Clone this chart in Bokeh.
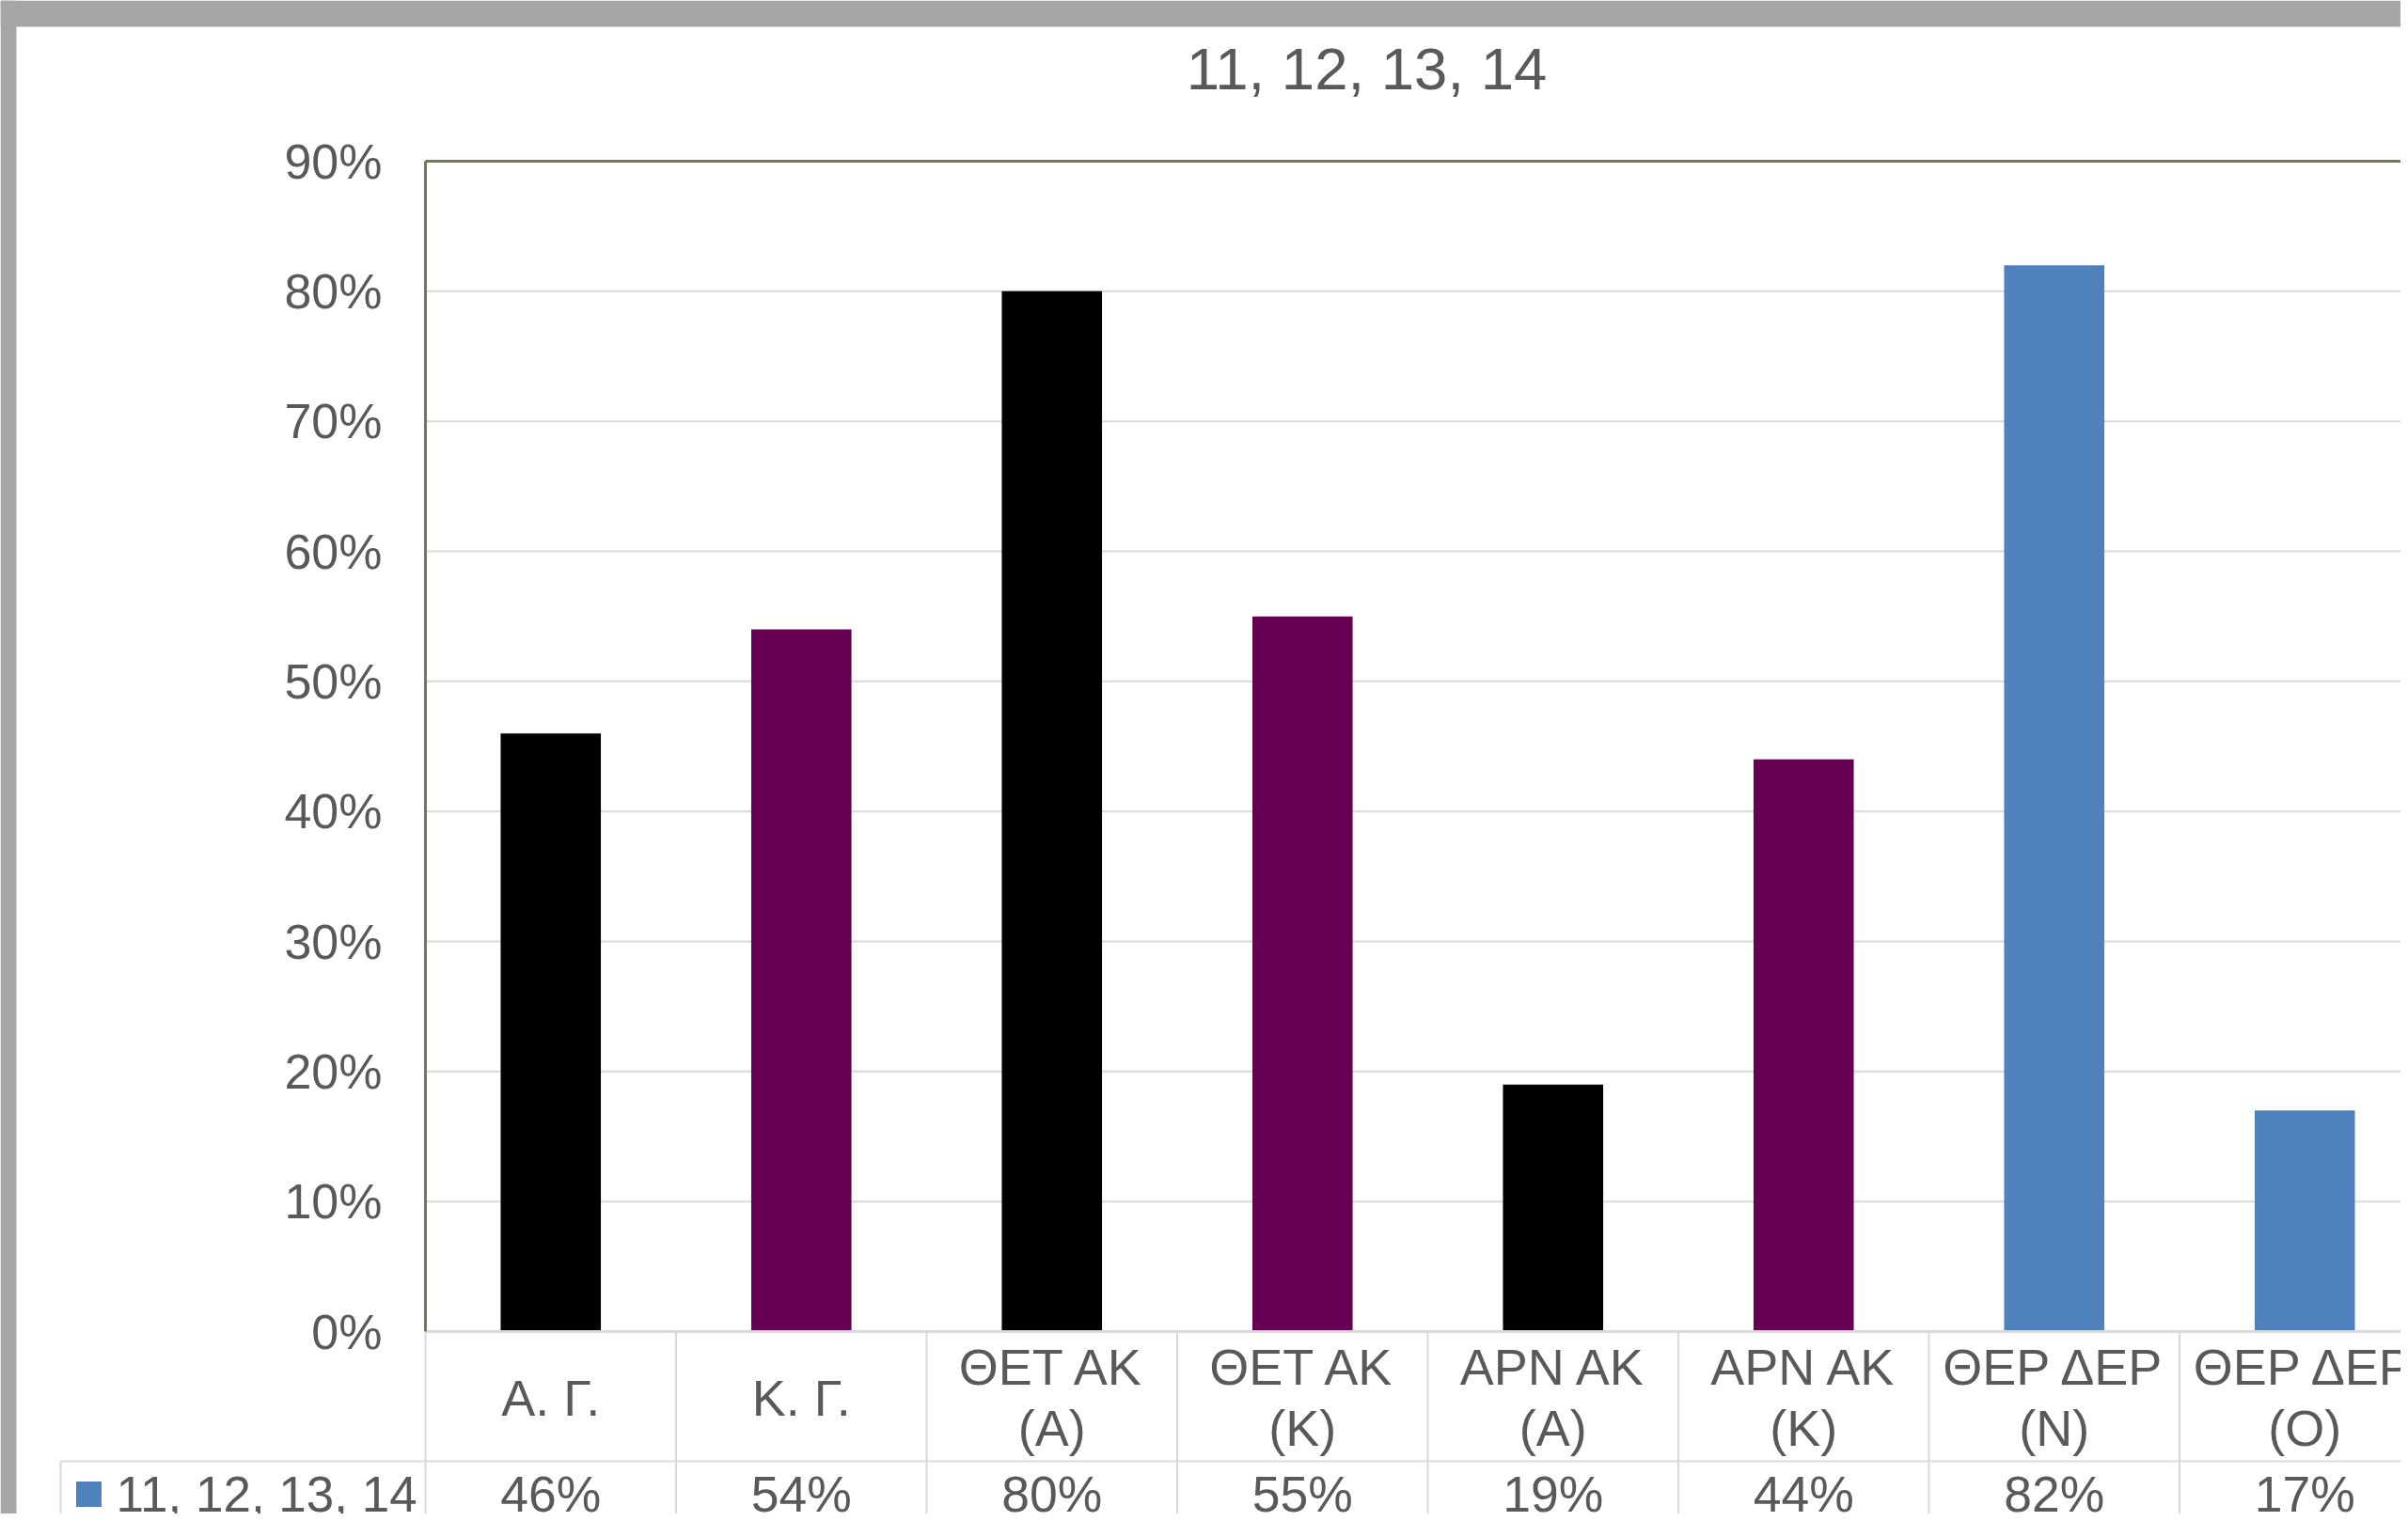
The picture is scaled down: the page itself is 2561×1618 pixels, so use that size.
from bokeh.plotting import figure
from bokeh.models import Range1d, LinearAxis, FixedTicker, NumeralTickFormatter
from bokeh.core.properties import value
from bokeh.embed import file_html
from bokeh.resources import INLINE

# ---------------- data ----------------
title_text = "11, 12, 13, 14"
series_name = "11, 12, 13, 14"
categories = ["Α. Γ.", "Κ. Γ.", "ΘΕΤ ΑΚ\n(Α)", "ΘΕΤ ΑΚ\n(Κ)",
              "ΑΡΝ ΑΚ\n(Α)", "ΑΡΝ ΑΚ\n(Κ)", "ΘΕΡ ΔΕΡ\n(Ν)", "ΘΕΡ ΔΕΡ\n(Ο)"]
values = [0.46, 0.54, 0.80, 0.55, 0.19, 0.44, 0.82, 0.17]
bar_colors = ["#000000", "#660052", "#000000", "#660052",
              "#000000", "#660052", "#4f81bd", "#4f81bd"]
y_ticks = [0.0, 0.1, 0.2, 0.3, 0.4, 0.5, 0.6, 0.7, 0.8, 0.9]
y_max = 0.9

# ---------------- layout constants (image pixels) ----------------
W, H = 2553, 1610          # figure size
PAGE_L, PAGE_T = 0, 0      # where the figure lands in the picture
X0_PX, CAT_W = 452, 266.5  # x of category axis start, px per category
Y0_PX = 1416               # y of 0%
UNIT_PX = (1416 - 171) / 0.9   # px per 1.0 (100%)

def dx(px):
    return (px - X0_PX) / CAT_W

def dy(py):
    return (Y0_PX - py) / UNIT_PX

x_start, x_end = dx(PAGE_L), dx(PAGE_L + W)
y_top, y_bot = dy(PAGE_T), dy(PAGE_T + H)

FONT = value("Liberation Sans")
TXT = "#595959"
GRID = "#d9d9d9"
FRAME = "#76765f"
n = len(categories)

p = figure(width=W, height=H, output_backend="svg", toolbar_location=None,
           x_range=Range1d(x_start, x_end), y_range=Range1d(y_bot, y_top),
           x_axis_type=None, y_axis_type=None,
           min_border=0, min_border_left=0, min_border_right=0,
           min_border_top=0, min_border_bottom=0)
p.outline_line_color = None
p.xgrid.visible = False
p.ygrid.visible = False
p.background_fill_color = "white"
p.border_fill_color = "white"

# window-frame grey bands (screenshot border)
p.quad(left=[x_start, x_start], right=[dx(17), x_end],
       bottom=[y_bot, dy(28)], top=[y_top, y_top],
       fill_color="#a6a6a6", line_color=None)

# horizontal gridlines
p.segment(x0=[0] * (len(y_ticks) - 2), x1=[n] * (len(y_ticks) - 2),
          y0=y_ticks[1:-1], y1=y_ticks[1:-1], line_color=GRID, line_width=2)

# bars
xs = [i + 0.5 for i in range(n)]
p.vbar(x=xs, top=values, width=0.4, bottom=0, fill_color=bar_colors, line_color=None)

# top frame border and category axis line
p.segment(x0=[0], x1=[n], y0=[y_max], y1=[y_max], line_color=FRAME, line_width=3)
p.segment(x0=[0], x1=[n], y0=[0], y1=[0], line_color=GRID, line_width=3)

# data table grid
row_sep = dy(1554)
legend_left = dx(64)
p.segment(x0=list(range(n + 1)), x1=list(range(n + 1)),
          y0=[0] * (n + 1), y1=[y_bot] * (n + 1), line_color=GRID, line_width=2)
p.segment(x0=[legend_left], x1=[n], y0=[row_sep], y1=[row_sep], line_color=GRID, line_width=2)
p.segment(x0=[legend_left], x1=[legend_left], y0=[row_sep], y1=[y_bot], line_color=GRID, line_width=2)

# category labels and values in the table
p.text(x=xs, y=[dy(1486)] * n, text=categories, text_font=FONT,
       text_font_size=value("54px"), text_color=TXT, text_align="center",
       text_baseline="middle", text_line_height=1.08)
p.text(x=xs, y=[dy(1589)] * n, text=[f"{round(v * 100)}%" for v in values],
       text_font=FONT, text_font_size=value("53.5px"), text_color=TXT,
       text_align="center", text_baseline="middle")

# legend key in table
p.scatter(x=[dx(94)], y=[dy(1589)], marker="square", size=27,
          fill_color="#4f81bd", line_color=None)
p.text(x=[dx(123)], y=[dy(1589)], text=[series_name], text_font=FONT,
       text_font_size=value("53px"), text_color=TXT, text_align="left",
       text_baseline="middle")

# title
p.text(x=[dx(1453)], y=[dy(72)], text=[title_text], text_font=FONT,
       text_font_size=value("63.5px"), text_color=TXT, text_align="center",
       text_baseline="middle")

# value axis
yaxis = LinearAxis(fixed_location=0, ticker=FixedTicker(ticks=y_ticks),
                   formatter=NumeralTickFormatter(format="0%"), bounds=(0, y_max))
yaxis.axis_line_color = FRAME
yaxis.axis_line_width = 3
yaxis.major_tick_line_color = None
yaxis.minor_tick_line_color = None
yaxis.major_tick_out = 0
yaxis.major_tick_in = 0
yaxis.major_label_standoff = 46
yaxis.major_label_text_font = "Liberation Sans"
yaxis.major_label_text_font_size = "52px"
yaxis.major_label_text_color = TXT
p.add_layout(yaxis, "left")

open("out.html", "w").write(file_html(p, INLINE))
